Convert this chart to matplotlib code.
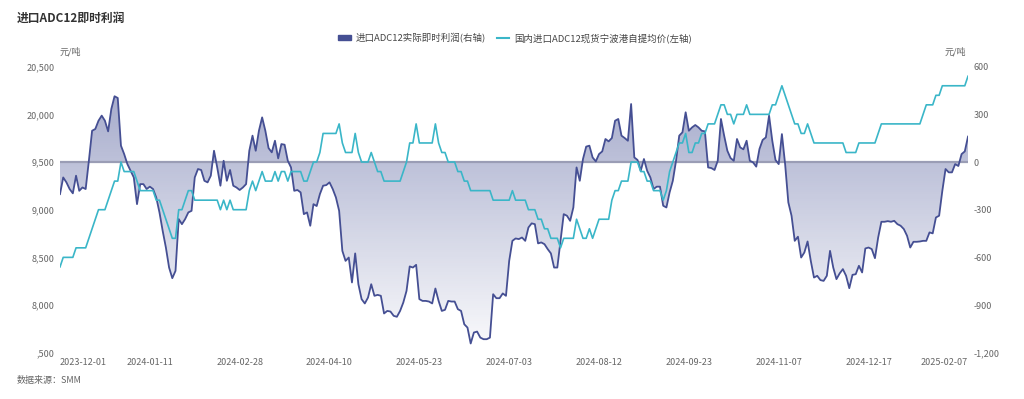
import matplotlib
matplotlib.use("Agg")
import matplotlib.pyplot as plt
import numpy as np
import pandas as pd
from matplotlib.colors import LinearSegmentedColormap
from matplotlib.lines import Line2D
from matplotlib.patches import Patch, PathPatch
from matplotlib.path import Path

plt.rcParams["font.family"] = ["Noto Sans CJK SC", "DejaVu Sans"]

# trading days (Chinese exchange holidays removed)
holidays = ["2024-01-01", "2024-02-09", "2024-02-12", "2024-02-13", "2024-02-14",
            "2024-02-15", "2024-02-16", "2024-04-04", "2024-04-05", "2024-05-01",
            "2024-05-02", "2024-05-03", "2024-06-10", "2024-09-16", "2024-09-17",
            "2024-10-01", "2024-10-02", "2024-10-03", "2024-10-04", "2024-10-07",
            "2025-01-01", "2025-01-28", "2025-01-29", "2025-01-30", "2025-01-31",
            "2025-02-03", "2025-02-04"]
dates = pd.bdate_range("2023-12-01", "2025-02-07", freq="C", holidays=holidays)
date_labels = [d.strftime("%Y-%m-%d") for d in dates]

# 国内进口ADC12现货宁波港自提均价 (元/吨, left axis)
price = [
    18400, 18500, 18500, 18500, 18500, 18600, 18600, 18600, 18600, 18700, 18800, 18900, 19000, 19000,
    19000, 19100, 19200, 19300, 19300, 19500, 19400, 19400, 19400, 19400, 19300, 19200, 19200, 19200,
    19200, 19200, 19100, 19100, 19000, 18900, 18800, 18700, 18700, 19000, 19000, 19100, 19200, 19200,
    19100, 19100, 19100, 19100, 19100, 19100, 19100, 19100, 19000, 19100, 19000, 19100, 19000, 19000,
    19000, 19000, 19000, 19200, 19300, 19200, 19300, 19400, 19300, 19300, 19300, 19400, 19300, 19400,
    19400, 19300, 19400, 19400, 19400, 19400, 19300, 19300, 19400, 19500, 19500, 19600, 19800, 19800,
    19800, 19800, 19800, 19900, 19700, 19600, 19600, 19600, 19800, 19600, 19500, 19500, 19500, 19600,
    19500, 19400, 19400, 19300, 19300, 19300, 19300, 19300, 19300, 19400, 19500, 19700, 19700, 19900,
    19700, 19700, 19700, 19700, 19700, 19900, 19700, 19600, 19600, 19500, 19500, 19500, 19400, 19400,
    19300, 19300, 19200, 19200, 19200, 19200, 19200, 19200, 19200, 19100, 19100, 19100, 19100, 19100,
    19100, 19200, 19100, 19100, 19100, 19100, 19000, 19000, 19000, 18900, 18900, 18800, 18800, 18700,
    18700, 18700, 18600, 18700, 18700, 18700, 18700, 18900, 18800, 18700, 18700, 18800, 18700, 18800,
    18900, 18900, 18900, 18900, 19100, 19200, 19200, 19300, 19300, 19300, 19500, 19500, 19500, 19400,
    19400, 19300, 19300, 19200, 19200, 19200, 19100, 19200, 19400, 19500, 19600, 19700, 19700, 19800,
    19600, 19600, 19700, 19700, 19800, 19800, 19900, 19900, 19900, 20000, 20100, 20100, 20000, 20000,
    19900, 20000, 20000, 20000, 20100, 20000, 20000, 20000, 20000, 20000, 20000, 20000, 20100, 20100,
    20200, 20300, 20200, 20100, 20000, 19900, 19900, 19800, 19800, 19900, 19800, 19700, 19700, 19700,
    19700, 19700, 19700, 19700, 19700, 19700, 19700, 19600, 19600, 19600, 19600, 19700, 19700, 19700,
    19700, 19700, 19700, 19800, 19900, 19900, 19900, 19900, 19900, 19900, 19900, 19900, 19900, 19900,
    19900, 19900, 19900, 20000, 20100, 20100, 20100, 20200, 20200, 20300, 20300, 20300, 20300, 20300,
    20300, 20300, 20300, 20400,
]

# 进口ADC12实际即时利润 (元/吨, right axis)
profit = [
    -202, -97, -128, -170, -197, -86, -181, -160, -170, 8, 197, 208, 260, 292,
    260, 193, 334, 414, 403, 103, 50, -13, -55, -97, -265, -139, -139, -170,
    -155, -170, -223, -317, -433, -538, -664, -731, -685, -359, -391, -359, -317, -307,
    -97, -44, -50, -118, -128, -86, 71, -34, -149, 8, -118, -50, -149, -160,
    -176, -160, -139, 71, 166, 71, 197, 281, 197, 88, 61, 134, 23, 113,
    109, 8, -34, -181, -176, -191, -328, -317, -401, -265, -277, -202, -149, -145,
    -128, -170, -223, -307, -559, -622, -601, -758, -575, -769, -863, -890, -853, -769,
    -842, -836, -842, -953, -937, -941, -968, -974, -937, -884, -811, -657, -664, -647,
    -863, -874, -874, -878, -890, -796, -874, -937, -930, -874, -878, -878, -926, -937,
    -1021, -1042, -1142, -1073, -1067, -1105, -1115, -1115, -1105, -832, -857, -857, -827, -842,
    -622, -496, -481, -485, -475, -496, -412, -386, -391, -512, -506, -517, -548, -575,
    -664, -664, -496, -328, -338, -370, -286, -34, -118, 19, 97, 103, 29, 4,
    50, 67, 145, 130, 151, 260, 271, 166, 151, 134, 365, 29, 13, -55,
    19, -55, -97, -170, -155, -155, -275, -286, -191, -118, 8, 166, 187, 313,
    197, 218, 233, 218, 197, 193, -34, -38, -50, 8, 271, 166, 71, 25,
    8, 145, 92, 80, 134, 8, -2, -29, 82, 139, 155, 292, 134, 13,
    -13, 176, -13, -254, -338, -496, -470, -601, -569, -500, -622, -727, -716, -743,
    -748, -716, -559, -664, -737, -701, -674, -716, -794, -710, -706, -653, -695, -544,
    -538, -548, -605, -475, -376, -376, -372, -376, -370, -391, -401, -422, -464, -538,
    -502, -502, -500, -496, -496, -443, -449, -349, -338, -181, -44, -65, -65, -13,
    -25, 50, 67, 160,
]

left_ticks = [17500, 18000, 18500, 19000, 19500, 20000, 20500]
left_tick_labels = [",500", "8,000", "8,500", "9,000", "9,500", "20,000", "20,500"]
right_ticks = [-1200, -900, -600, -300, 0, 300, 600]

dark = "#454f93"
cyan = "#3ab6c8"
gray = "#666666"

n = len(dates)
idx = np.arange(n)

fig = plt.figure(figsize=(10.24, 3.99), dpi=100)
ax = fig.add_axes([60 / 1024, 1 - 352.7 / 399, 908 / 1024, 286 / 399])
ax2 = ax.twinx()

# gradient area between profit line and zero
cmap = LinearSegmentedColormap.from_list(
    "g", [(0.27, 0.31, 0.58, 0.02), (0.27, 0.31, 0.58, 0.52)])
grad = np.linspace(0, 1, 256).reshape(-1, 1)
im = ax2.imshow(grad, extent=[0, n - 1, -1200, 600], origin="lower",
                aspect="auto", cmap=cmap, zorder=1)
verts = [(0, 0)] + list(zip(idx, profit)) + [(n - 1, 0), (0, 0)]
clip = PathPatch(Path(verts), transform=ax2.transData, facecolor="none",
                 edgecolor="none")
ax2.add_patch(clip)
im.set_clip_path(clip)
ax2.axhline(0, color="#9a9db5", lw=1.6, zorder=2)
ax2.plot(idx, profit, color=dark, lw=1.3, zorder=3)

ax.plot(idx, price, color=cyan, lw=1.2, zorder=4)
ax.set_zorder(ax2.get_zorder() + 1)
ax.patch.set_visible(False)

ax.set_xlim(0, n - 1)
ax.set_ylim(17500, 20500)
ax2.set_ylim(-1200, 600)
ax2.set_xlim(0, n - 1)

for a in (ax, ax2):
    for s in a.spines.values():
        s.set_visible(False)
    a.tick_params(length=0, labelsize=6.5, labelcolor=gray)

ax.set_yticks(left_ticks)
ax.set_yticklabels(left_tick_labels)
ax.tick_params(axis="y", pad=4)
ax2.set_yticks(right_ticks)
ax2.set_yticklabels([f"{v:,}" for v in right_ticks])
ax2.tick_params(axis="y", pad=4)

# x labels: every 28th trading day plus the last one
xt = list(range(0, 253, 28)) + [n - 1]
ax.set_xticks(xt)
ax.set_xticklabels([date_labels[i] for i in xt])
ax.tick_params(axis="x", pad=4)
labs = ax.get_xticklabels()
labs[0].set_ha("left")
labs[-1].set_ha("right")

fig.text(60 / 1024, 1 - 52 / 399, "元/吨", fontsize=6.5, color=gray, va="center")
fig.text(966 / 1024, 1 - 52 / 399, "元/吨", fontsize=6.5, color=gray,
         va="center", ha="right")

fig.text(17 / 1024, 1 - 18 / 399, "进口ADC12即时利润", fontsize=8.5,
         fontweight="bold", color="#333333", va="center")
fig.text(17 / 1024, 1 - 381 / 399, "数据来源：SMM", fontsize=6.5, color=gray,
         va="center")

handles = [Patch(facecolor=dark, edgecolor=dark),
           Line2D([], [], color=cyan, lw=1.5)]
fig.legend(handles, ["进口ADC12实际即时利润(右轴)", "国内进口ADC12现货宁波港自提均价(左轴)"],
           loc="center", bbox_to_anchor=(515 / 1024, 1 - 38 / 399), ncol=2,
           frameon=False, fontsize=6.8, labelcolor="#444444", handlelength=1.3,
           handleheight=0.5, columnspacing=1.2, handletextpad=0.5)

fig.savefig("out.png", dpi=100)
